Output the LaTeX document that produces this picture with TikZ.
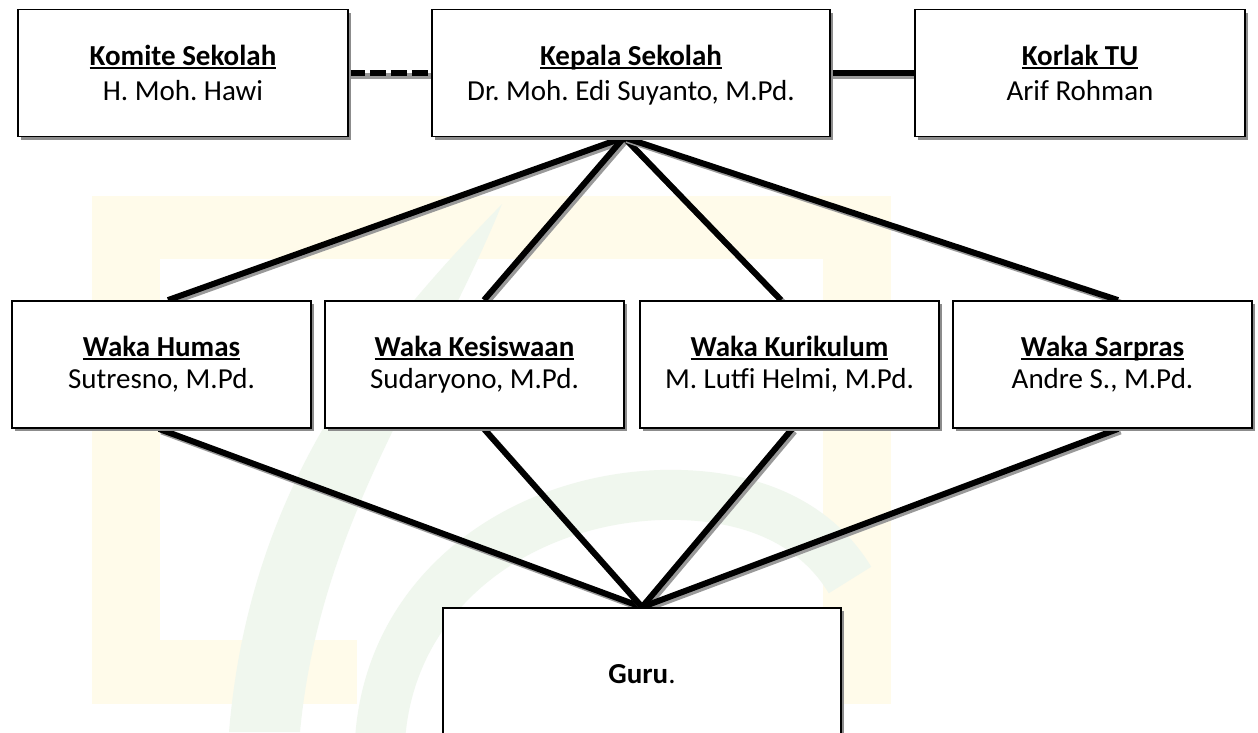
\documentclass[tikz,border=0pt]{standalone}
\usepackage{fontspec}
\setmainfont{Carlito}
\usetikzlibrary{calc,shadows}
\definecolor{wmyellow}{RGB}{255,251,234}
\definecolor{wmgreen}{RGB}{240,247,238}
\newcommand{\myul}[1]{\leavevmode\setbox0\hbox{#1}\rlap{\rule[-3.5pt]{\wd0}{2pt}}\box0}
\pgfdeclarelayer{bg}
\pgfsetlayers{bg,main}
\frenchspacing
\begin{document}
\begin{tikzpicture}[x=1pt,y=-1pt,
  orgbox/.style={draw=black, line width=1.8pt, fill=white, align=center, inner sep=0pt,
    font=\fontsize{29}{35}\selectfont,
    drop shadow={shadow xshift=3pt, shadow yshift=-3pt, fill=black!45, opacity=1}},
  topbox/.style={orgbox, minimum height=127pt, text depth=-4pt},
  midbox/.style={orgbox, minimum height=127pt, minimum width=299pt, font=\fontsize{29}{32}\selectfont},
  conn/.style={line width=6pt, preaction={draw=black!40, line width=6pt, transform canvas={shift={(2.5pt,-2.5pt)}}}}]
\useasboundingbox (0,0) rectangle (1258,732);
% boxes
\node[topbox, minimum width=330pt] (komite) at (183,73) {\myul{\textbf{Komite Sekolah}}\\H. Moh. Hawi};
\node[topbox, minimum width=398pt] (kepala) at (631,73) {\myul{\textbf{Kepala Sekolah}}\\Dr. Moh. Edi Suyanto, M.Pd.};
\node[topbox, minimum width=330pt] (korlak) at (1080,73) {\myul{\textbf{Korlak TU}}\\Arif Rohman};
\node[midbox] (humas) at (161.5,364.5) {\myul{\textbf{Waka Humas}}\\Sutresno, M.Pd.};
\node[midbox] (kesis) at (474.5,364.5) {\myul{\textbf{Waka Kesiswaan}}\\Sudaryono, M.Pd.};
\node[midbox] (kurik) at (789.5,364.5) {\myul{\textbf{Waka Kurikulum}}\\M. Lutfi Helmi, M.Pd.};
\node[midbox] (sarpr) at (1102.5,364.5) {\myul{\textbf{Waka Sarpras}}\\Andre S., M.Pd.};
\node[orgbox, minimum width=398pt, minimum height=132pt] (guru) at (642,674) {\textbf{Guru}.};
\begin{pgfonlayer}{bg}
\fill[white] (0,0) rectangle (1258,732);
% watermark
\fill[wmyellow] (92,196) rectangle (891,259);
\fill[wmyellow] (92,259) rectangle (160,704);
\fill[wmyellow] (823,259) rectangle (891,704);
\fill[wmyellow] (160,640) rectangle (357,704);
\fill[wmgreen] (502,204) .. controls (380,330) and (250,480) .. (229,732) -- (300,732) .. controls (320,520) and (430,380) .. (502,204) -- cycle;
\draw[wmgreen, line width=50pt] (380,740) .. controls (390,590) and (520,500) .. (660,495) .. controls (760,492) and (820,530) .. (850,580);
% connectors
\draw[conn, dash pattern=on 16pt off 5pt] (komite.east) -- (kepala.west);
\draw[conn] (kepala.east) -- (korlak.west);
\coordinate (kp) at ($(kepala.south)+(-7,0)$);
\draw[conn] (kp) -- ($(humas.north)+(6.5,0)$);
\draw[conn] (kp) -- ($(kesis.north)+(9.5,0)$);
\draw[conn] (kp) -- ($(kurik.north)+(-8.5,0)$);
\draw[conn] (kp) -- ($(sarpr.north)+(15.5,0)$);
\draw[conn] ($(humas.south)+(-2.5,0)$) -- (guru.north);
\draw[conn] ($(kesis.south)+(9.5,0)$) -- (guru.north);
\draw[conn] ($(kurik.south)+(2.5,0)$) -- (guru.north);
\draw[conn] ($(sarpr.south)+(15.5,0)$) -- (guru.north);
\end{pgfonlayer}
\end{tikzpicture}
\end{document}
